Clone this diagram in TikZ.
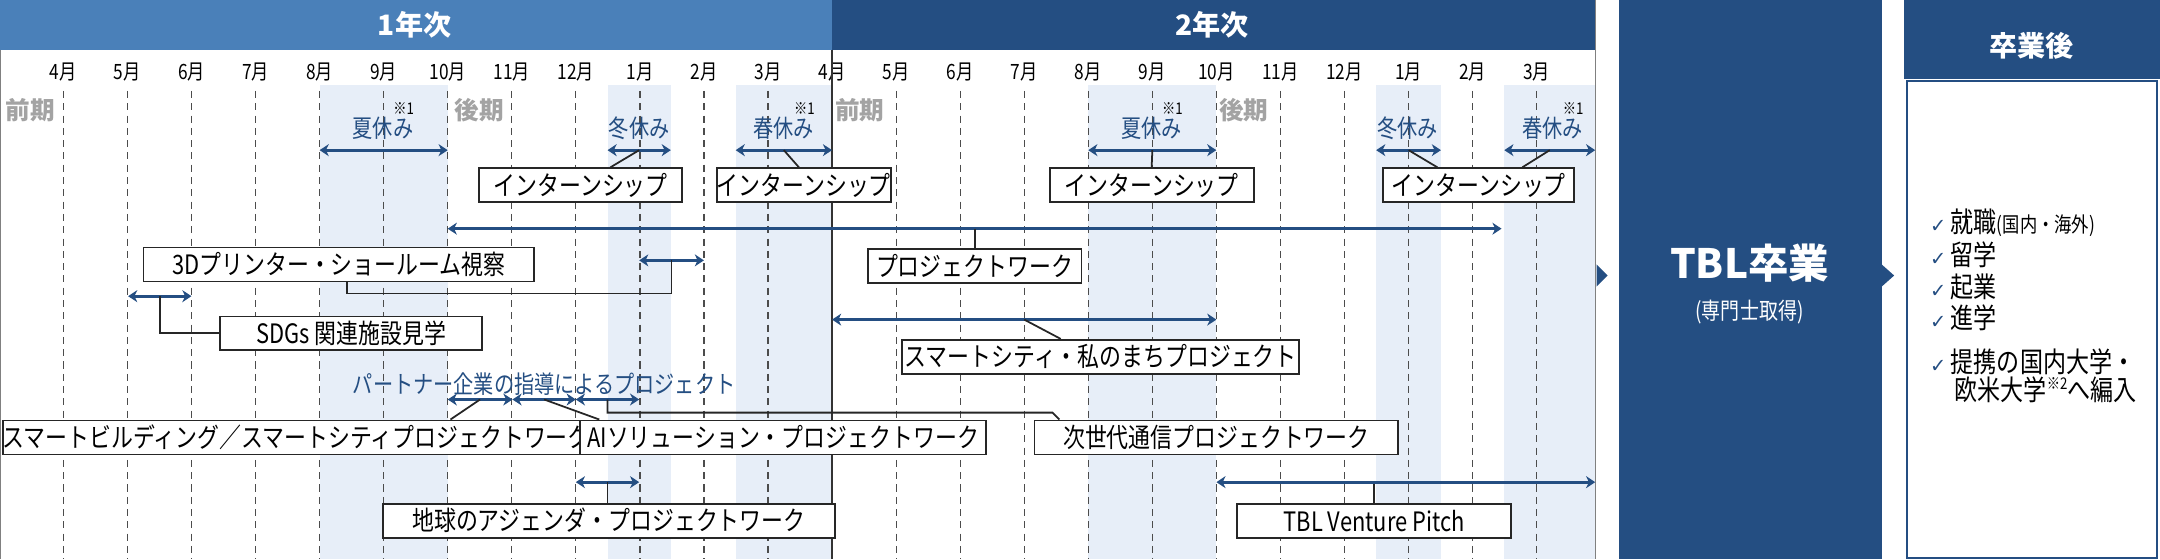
\documentclass[tikz,border=0pt]{standalone}
\usepackage{fontspec}
\newfontfamily\jp[FakeStretch=0.82]{Noto Sans CJK JP}
\newfontfamily\jpw{Noto Sans CJK JP}
\newfontfamily\sym{DejaVu Sans}
\usetikzlibrary{positioning,arrows.meta,calc}
\definecolor{yearone}{HTML}{4A80B9}
\definecolor{navy}{HTML}{244E82}
\definecolor{bandblue}{HTML}{E7EEF8}
\definecolor{termgray}{HTML}{A3A3A3}
\tikzset{box/.style={draw=black!85,fill=white,line width=0.5pt,minimum height=0.34cm,
    inner sep=0pt,font=\jp\fontsize{7.6}{8}\selectfont},
    period/.style={<->,navy,line width=0.8pt,>={Stealth[length=2.6pt,width=3.4pt,inset=0.8pt]}},
    link/.style={-,black!85,line width=0.5pt},
    term/.style={termgray,font=\jpw\bfseries\fontsize{7}{8}\selectfont},
    holiday/.style={navy,font=\jp\fontsize{7}{8}\selectfont},
    month/.style={font=\jp\fontsize{6}{7}\selectfont},
    item/.style={anchor=west,font=\jp\fontsize{8}{9}\selectfont,align=left}}
\begin{document}
\begin{tikzpicture}[x=0.013776cm,y=-0.013776cm]
        \useasboundingbox (0,0) rectangle (1568,406);
        % holiday bands
        \foreach \a/\b in {232/325,441/487,534/604,790/883,999/1046,1092/1158}
            \fill[bandblue] (\a,62) rectangle (\b,406);
        % year headers
        \fill[yearone] (0,0) rectangle (604,36);
        \fill[navy] (604,0) rectangle (1158,36);
        \node[white,font=\jpw\bfseries\fontsize{8}{9}\selectfont] (y1) at (301,18) {1年次};
        \node[white,font=\jpw\bfseries\fontsize{8}{9}\selectfont] (y2) at (880,18) {2年次};
        \draw[gray,line width=0.4pt] (0,36) -- (0,406) (1158,0) -- (1158,406);
        % months
        \foreach \m [count=\i from 0] in {4,5,6,7,8,9,10,11,12,1,2,3,4,5,6,7,8,9,10,11,12,1,2,3}{
            \node[month] (m\i) at (46+46.5*\i,52) {\m 月};
            \ifnum\i=12 \draw[black!80,line width=0.5pt] (604,36) -- (604,406);
            \else \draw[dashed,black!70,line width=0.35pt,dash pattern=on 2pt off 1.5pt] (46+46.5*\i,66) -- (46+46.5*\i,406);\fi}
        \node[term] (t1) at (22,80) {前期};
        \node[term] (t2) at (348,80) {後期};
        \node[term] (t3) at (624,80) {前期};
        \node[term] (t4) at (903,80) {後期};
        % holidays
        \foreach \x/\t/\n/\s in {278/夏休み/h1/1,464/冬休み/h2/0,569/春休み/h3/1,836/夏休み/h4/1,1022/冬休み/h5/0,1127/春休み/h6/1}{
            \node[holiday] (\n) at (\x,93) {\t};
            \ifnum\s=1 \node[font=\jp\fontsize{4.6}{5}\selectfont] at (\x+15,79) {※1};\fi}
        \draw[period] (232,109) -- coordinate (su1) (325,109);
        \draw[period] (441,109) -- coordinate (wi1) (487,109);
        \draw[period] (534,109) -- coordinate (sp1) (604,109);
        \draw[period] (790,109) -- coordinate (su2) (883,109);
        \draw[period] (999,109) -- coordinate (wi2) (1046,109);
        \draw[period] (1092,109) -- coordinate (sp2) (1158,109);
        % internships
        \node[box,minimum width=2.03cm] (in1) at (421.5,134.5) {インターンシップ};
        \node[box,minimum width=1.72cm] (in2) at (583.5,134.5) {インターンシップ};
        \node[box,minimum width=2.04cm] (in3) at (836,134.5) {インターンシップ};
        \node[box,minimum width=1.91cm] (in4) at (1073.5,134.5) {インターンシップ};
        \draw[link] (wi1) -- ($(in1.north)+(21.5,0)$);
        \draw[link] (sp1) -- ($(in2.north)+(-3.5,0)$);
        \draw[link] (su2) -- (in3.north);
        \draw[link] (wi2) -- ($(in4.north)+(-30,0)$);
        \draw[link] (sp2) -- ($(in4.north)+(31.5,0)$);
        % project work
        \draw[period] (325,166) -- coordinate (pwa) (1090,166);
        \node[box,minimum width=2.14cm] (pw) at (707.5,193) {プロジェクトワーク};
        \draw[link] (pwa) -- (pw.north);
        \node[box,minimum width=3.91cm] (pd) at (246,192) {3Dプリンター・ショールーム視察};
        \draw[period] (464,189) -- coordinate (pda) (511,189);
        \draw[link] (pda) |- ($(pd.south)+(6,8)$) -- ($(pd.south)+(6,0)$);
        \draw[period] (93,215) -- coordinate (sda) (139,215);
        \node[box,minimum width=2.62cm] (sd) at (255,242) {SDGs 関連施設見学};
        \draw[link] (sda) |- (sd.west);
        \draw[period] (604,232) -- coordinate (sca) (883,232);
        \node[box,minimum width=3.97cm] (sc) at (799,259) {スマートシティ・私のまちプロジェクト};
        \draw[link] (sca) -- ($(sc.north)+(-29,0)$);
        % partner projects
        \node[holiday] (pt) at (395,279) {パートナー企業の指導によるプロジェクト};
        \draw[period] (325,290) -- coordinate (pa1) (372,290);
        \draw[period] (372,290) -- coordinate (pa2) (418,290);
        \draw[period] (418,290) -- coordinate (pa3) (464,290);
        \node[box,minimum width=5.43cm] (sb) at (215,317.5) {スマートビルディング／スマートシティプロジェクトワーク};
        \node[box,minimum width=4.06cm] (ai) at (568.5,317.5) {AIソリューション・プロジェクトワーク};
        \node[box,minimum width=3.64cm] (nx) at (883,317.5) {次世代通信プロジェクトワーク};
        \draw[link] (pa1) -- ($(sb.north)+(112,0)$);
        \draw[link] (pa2) -- ($(ai.north)+(-133.5,0)$);
        \draw[link] (pa3) |- ($(nx.north)+(-119,-5)$) -- ($(nx.north)+(-114,0)$);
        \draw[period] (418,350) -- coordinate (eaa) (464,350);
        \node[box,minimum width=4.52cm] (ea) at (442,378) {地球のアジェンダ・プロジェクトワーク};
        \draw[link] (eaa) -- (eaa |- ea.north);
        \draw[period] (883,350) -- (1158,350);
        \node[box,minimum width=2.74cm] (vp) at (997.5,378) {TBL Venture Pitch};
        \draw[link] (vp.north) -- ++(0,-14);
        % graduation
        \fill[navy] (1159,192) -- (1167,200) -- (1159,208) -- cycle;
        \fill[navy] (1175,0) rectangle (1366,406);
        \node[white,font=\jpw\bfseries\fontsize{11.5}{12}\selectfont] (tbl) at (1270,191) {TBL卒業};
        \node[white,font=\jp\fontsize{6.6}{7}\selectfont,below=-2pt of tbl] (sm) {(専門士取得)};
        \fill[navy] (1366,192) -- (1375,200) -- (1366,208) -- cycle;
        \fill[navy] (1382,0) rectangle (1568,57);
        \node[white,font=\jpw\bfseries\fontsize{8}{9}\selectfont] (af) at (1475,33) {卒業後};
        \draw[navy,fill=white,line width=0.6pt] (1384,59) rectangle (1566,405);
        \foreach \y/\t in {162/就職{\fontsize{6}{7}\selectfont (国内・海外)},185/留学,208/起業,231/進学}
            \node[item] at (1392,\y) {{\sym\color{navy}\fontsize{5.5}{6}\selectfont ✓}\,\t};
        \node[item,anchor=north west] (tr) at (1392,244) {{\sym\color{navy}\fontsize{5.5}{6}\selectfont ✓}\,提携の国内大学・\\[-1pt]\hspace*{7pt}欧米大学\raisebox{3pt}{\fontsize{4.6}{5}\selectfont ※2}へ編入};
    \end{tikzpicture}
\end{document}
